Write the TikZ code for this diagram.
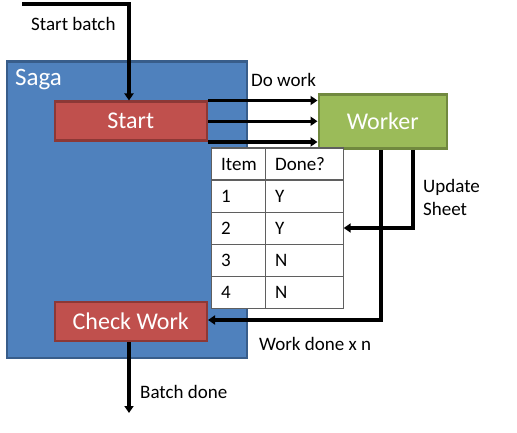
\documentclass[tikz,border=0pt]{standalone}
\usepackage{fontspec}
\setmainfont{Carlito}
\usetikzlibrary{arrows.meta}
\definecolor{sagafill}{HTML}{4F81BD}
\definecolor{sagaedge}{HTML}{385D8A}
\definecolor{redfill}{HTML}{C0504D}
\definecolor{rededge}{HTML}{8C3836}
\definecolor{greenfill}{HTML}{9BBB59}
\definecolor{greenedge}{HTML}{71893F}
\definecolor{tblgray}{HTML}{5F5F5F}
\tikzset{
  box/.style={draw, line width=2.5pt, inner sep=0pt, anchor=north west},
  conn/.style={line width=3.2pt, -{Triangle[length=7pt,width=9pt]}},
  lbl/.style={font=\fontsize{19}{23}\selectfont, inner sep=0pt},
  boxtxt/.style={font=\fontsize{24}{28}\selectfont, text=white},
  cell/.style={draw=tblgray, line width=1.2pt, fill=white, minimum height=32pt, inner sep=0pt, anchor=north west, font=\fontsize{19}{22}\selectfont},
}
\begin{document}
\begin{tikzpicture}[x=1pt,y=-1pt]
\useasboundingbox (0,0) rectangle (517,433);
% Saga
\node[box, draw=sagaedge, fill=sagafill, minimum width=240pt, minimum height=296pt] (saga) at (5.5,60.5) {};
\node[font=\fontsize{25}{28}\selectfont, text=white, anchor=west, inner sep=0pt] (sagalbl) at (15,80) {Saga};
% Start
\node[box, draw=rededge, fill=redfill, minimum width=152pt, minimum height=39pt] (start) at (53.5,100.5) {};
\node[boxtxt] (starttxt) at (start.center) {Start};
% Check Work
\node[box, draw=rededge, fill=redfill, minimum width=152pt, minimum height=39pt] (check) at (53.5,300.5) {};
\node[boxtxt] (checktxt) at (check.center) {Check Work};
% Worker
\node[box, draw=greenedge, fill=greenfill, minimum width=128pt, minimum height=54pt] (worker) at (317.5,93.5) {};
\node[boxtxt] (workertxt) at (worker.center) {Worker};
% Table
\foreach \r/\a/\b in {0/Item/Done?,1/1/Y,2/2/Y,3/3/N,4/4/N}{
  \node[cell, minimum width=54pt, text width=34pt, align=left] (c\r a) at (210.5,{147.5+\r*32}) {\a};
  \node[cell, minimum width=78pt, text width=58pt, align=left] (c\r b) at (264.5,{147.5+\r*32}) {\b};
}
% Start batch
\coordinate (sb0) at (22,4);
\coordinate (sb1) at (129,4);
\draw[conn] (sb0) -- (sb1) -- (start.north -| sb1);
\node[lbl, anchor=west] (sblbl) at (31,24) {Start batch};
% Do work arrows
\draw[conn] (start.north east) -- (start.north east -| worker.west);
\draw[conn] (start.east) -- (start.east -| worker.west);
\draw[conn] (start.south east) -- (start.south east -| worker.west);
\node[lbl, anchor=west] (dowork) at (251,80) {Do work};
% Update sheet
\coordinate (u1) at (413,228);
\draw[conn] (worker.south -| u1) -- (u1) -- (u1 -| c2b.east);
\node[lbl, anchor=north west, align=left] (upd) at (423,179) {Update\\[0pt]Sheet};
% Work done
\coordinate (w1) at (381,320);
\draw[conn] (worker.south -| w1) -- (w1) -- (check.east |- w1);
\node[lbl, anchor=west] (wdone) at (259,344) {Work done x n};
% Batch done
\coordinate (bd) at (129,413);
\draw[conn] (check.south -| bd) -- (bd);
\node[lbl, anchor=west] (bdlbl) at (140,392) {Batch done};
\end{tikzpicture}
\end{document}
